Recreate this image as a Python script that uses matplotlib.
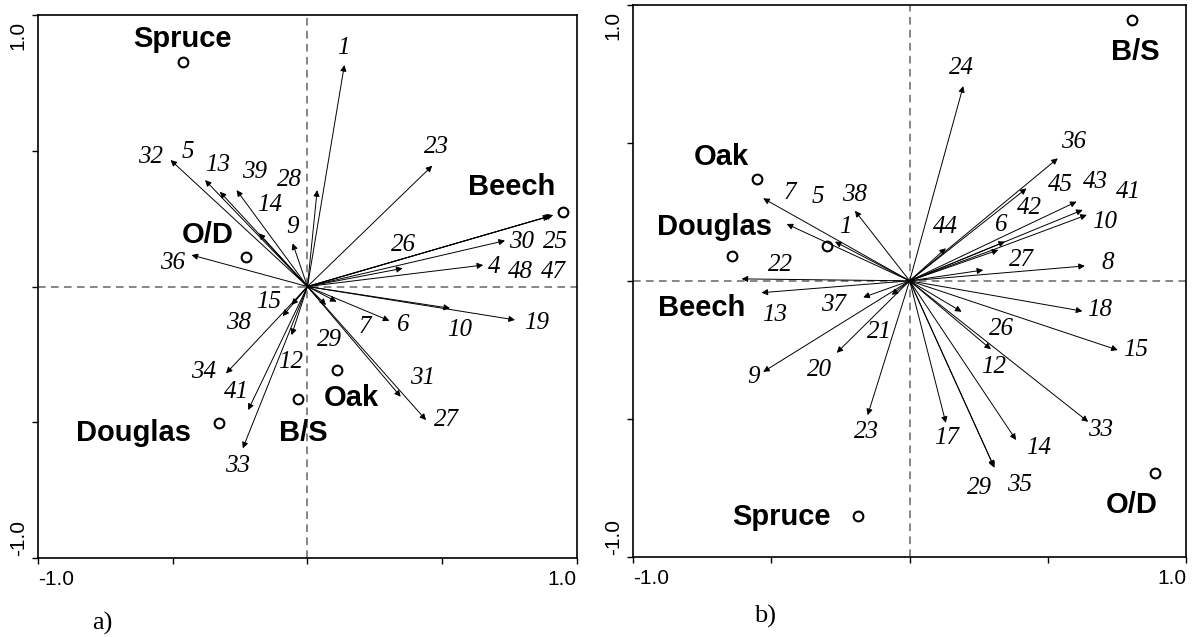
import matplotlib.pyplot as plt

# ---- panel a) : variable arrows (tip coordinates) ----
a_vars = ['1', '23', '28', '25', '47', '48', '30', '4', '26', '9', '32', '5', '13', '39',
          '14', '36', '15', '38', '34', '41', '33', '12', '29', '7', '6', '10', '19', '31', '27']
a_x = [0.137, 0.463, 0.036, 0.912, 0.905, 0.898, 0.733, 0.652, 0.353, -0.055, -0.508, -0.380, -0.325, -0.263,
       -0.180, -0.430, -0.059, -0.092, -0.302, -0.220, -0.240, -0.059, 0.069, 0.108, 0.304, 0.529, 0.770, 0.346, 0.440]
a_y = [0.816, 0.445, 0.355, 0.263, 0.261, 0.259, 0.169, 0.079, 0.067, 0.159, 0.466, 0.392, 0.349, 0.355,
       0.196, 0.116, -0.068, -0.109, -0.320, -0.455, -0.596, -0.179, -0.068, -0.056, -0.126, -0.080, -0.123, -0.406, -0.492]
a_lab_x = [0.132, 0.477, -0.065, 0.922, 0.911, 0.791, 0.795, 0.692, 0.358, -0.054, -0.582, -0.443, -0.332, -0.195,
           -0.139, -0.499, -0.145, -0.257, -0.384, -0.263, -0.260, -0.061, 0.083, 0.213, 0.355, 0.566, 0.850, 0.427, 0.517]
a_lab_y = [0.878, 0.514, 0.392, 0.164, 0.055, 0.055, 0.164, 0.072, 0.153, 0.220, 0.478, 0.496, 0.448, 0.422,
           0.300, 0.087, -0.056, -0.133, -0.314, -0.387, -0.661, -0.277, -0.197, -0.148, -0.142, -0.160, -0.136, -0.338, -0.492]

# species (nominal) points
a_species = ['Spruce', 'O/D', 'Beech', 'Douglas', 'Oak', 'B/S']
a_sp_x = [-0.463, -0.228, 0.949, -0.327, 0.108, -0.034]
a_sp_y = [0.828, 0.108, 0.276, -0.502, -0.308, -0.414]
a_sp_lab_x = [-0.463, -0.369, 0.758, -0.646, 0.164, -0.017]
a_sp_lab_y = [0.910, 0.190, 0.368, -0.541, -0.412, -0.541]

# ---- panel b) ----
b_vars = ['24', '36', '45', '44', '43', '41', '10', '42', '6', '27', '8', '7', '5', '1', '38',
          '22', '13', '37', '21', '9', '20', '23', '18', '15', '26', '12', '33', '14', '17', '29', '35']
b_x = [0.194, 0.536, 0.423, 0.131, 0.604, 0.626, 0.641, 0.345, 0.321, 0.266, 0.634, -0.530, -0.445, -0.270, -0.198,
       -0.608, -0.536, -0.168, -0.065, -0.530, -0.264, -0.152, 0.625, 0.753, 0.188, 0.294, 0.646, 0.385, 0.131, 0.305, 0.307]
b_y = [0.706, 0.444, 0.335, 0.118, 0.287, 0.257, 0.239, 0.142, 0.112, 0.039, 0.054, 0.299, 0.206, 0.142, 0.254,
       0.007, -0.043, -0.060, -0.051, -0.330, -0.261, -0.487, -0.110, -0.251, -0.112, -0.248, -0.511, -0.577, -0.515, -0.674, -0.678]
b_lab_x = [0.188, 0.592, 0.544, 0.128, 0.671, 0.791, 0.707, 0.435, 0.330, 0.406, 0.718, -0.433, -0.331, -0.234, -0.198,
           -0.469, -0.488, -0.277, -0.110, -0.566, -0.325, -0.158, 0.689, 0.819, 0.333, 0.303, 0.689, 0.465, 0.134, 0.254, 0.399]
b_lab_y = [0.770, 0.504, 0.347, 0.196, 0.359, 0.323, 0.213, 0.264, 0.202, 0.075, 0.065, 0.319, 0.305, 0.196, 0.311,
           0.057, -0.124, -0.088, -0.185, -0.348, -0.323, -0.547, -0.106, -0.251, -0.176, -0.314, -0.541, -0.607, -0.571, -0.752, -0.740]

b_species = ['B/S', 'Oak', 'Douglas', '', 'Beech', 'Spruce', 'O/D']
b_sp_x = [0.803, -0.552, -0.644, -0.300, None, -0.188, 0.888]
b_sp_y = [0.946, 0.369, 0.091, 0.126, None, -0.853, -0.698]
b_sp_lab_x = [0.815, -0.680, -0.705, 0, -0.753, -0.463, 0.803]
b_sp_lab_y = [0.831, 0.450, 0.196, 0, -0.100, -0.855, -0.813]


def draw_panel(ax, names, xs, ys, lx, ly, sp, spx, spy, splx, sply, tag, tag_xy):
    ax.set_xlim(-1, 1)
    ax.set_ylim(-1, 1)
    ax.axhline(0, color='#666666', lw=1.1, ls=(0, (5, 3.5)))
    ax.axvline(0, color='#666666', lw=1.1, ls=(0, (5, 3.5)))
    for n, x, y, tx, ty in zip(names, xs, ys, lx, ly):
        ax.annotate('', xy=(x, y), xytext=(0, 0),
                    arrowprops=dict(arrowstyle='-|>', color='k', lw=0.7,
                                    mutation_scale=9, shrinkA=0, shrinkB=0))
        ax.text(tx, ty, n, ha='center', va='center', fontsize=18,
                family='Liberation Serif', style='italic')
    for s, x, y, tx, ty in zip(sp, spx, spy, splx, sply):
        if x is not None:
            ax.plot([x], [y], 'o', ms=7, mfc='white', mec='k', mew=1.5)
        if s:
            ax.text(tx, ty, s, ha='center', va='center', fontsize=21,
                    family='Liberation Sans', weight='bold')
    ax.set_xticks([-1, -0.5, 0, 0.5, 1])
    ax.set_yticks([-1, -0.5, 0, 0.5, 1])
    ax.set_xticklabels([])
    ax.set_yticklabels([])
    ax.tick_params(direction='out', length=4, width=1)
    for sp_ in ax.spines.values():
        sp_.set_linewidth(1.2)
    f = dict(fontsize=15, family='Liberation Sans')
    ax.text(0, -0.022, '-1.0', transform=ax.transAxes, ha='left', va='top', **f)
    ax.text(1, -0.022, '1.0', transform=ax.transAxes, ha='right', va='top', **f)
    ax.text(-0.019, 0.003, '-1.0', transform=ax.transAxes, ha='right', va='bottom', rotation=90, **f)
    ax.text(-0.019, 0.99, '1.0', transform=ax.transAxes, ha='right', va='top', rotation=90, **f)
    ax.text(tag_xy[0], tag_xy[1], tag, transform=ax.transAxes, ha='center', va='center',
            fontsize=19, family='Liberation Serif')


fig = plt.figure(figsize=(11.94, 6.37), dpi=100)
ax1 = fig.add_axes([0.0318, 0.1240, 0.4514, 0.8524])
ax2 = fig.add_axes([0.5304, 0.1261, 0.4629, 0.8661])

draw_panel(ax1, a_vars, a_x, a_y, a_lab_x, a_lab_y,
           a_species, a_sp_x, a_sp_y, a_sp_lab_x, a_sp_lab_y, 'a)', (0.119, -0.12))
draw_panel(ax2, b_vars, b_x, b_y, b_lab_x, b_lab_y,
           b_species, b_sp_x, b_sp_y, b_sp_lab_x, b_sp_lab_y, 'b)', (0.238, -0.109))

fig.savefig('out.png', dpi=100)
